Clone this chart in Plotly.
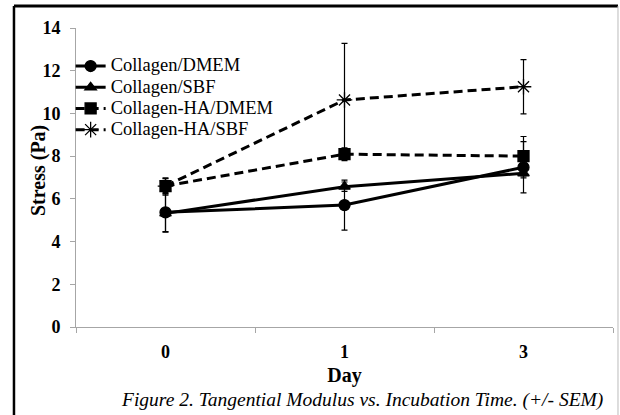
import plotly.graph_objects as go

days = ["0", "1", "3"]
series_names = ["Collagen/DMEM", "Collagen/SBF", "Collagen-HA/DMEM", "Collagen-HA/SBF"]
dmem = [5.37, 5.71, 7.48]
dmem_err = [0.93, 1.17, 1.2]
sbf = [5.32, 6.57, 7.2]
sbf_err = [0.85, 0.22, 0.22]
ha_dmem = [6.6, 8.09, 8.0]
ha_dmem_err = [0.38, 0.3, 0.92]
ha_sbf = [6.6, 10.63, 11.25]
ha_sbf_err = [0.35, 2.65, 1.27]
y_ticks = [0, 2, 4, 6, 8, 10, 12, 14]

FONT = "Liberation Serif"
styles = [
    dict(symbol="circle", size=11, dash="solid"),
    dict(symbol="triangle-up", size=10, dash="solid"),
    dict(symbol="square", size=11, dash="9px,5px"),
    dict(symbol="asterisk-open", size=13, dash="9px,5px"),
]
data = [(dmem, dmem_err), (sbf, sbf_err), (ha_dmem, ha_dmem_err), (ha_sbf, ha_sbf_err)]

fig = go.Figure()
for name, (vals, errs), st in zip(series_names, data, styles):
    fig.add_trace(go.Scatter(
        x=days, y=vals, mode="lines+markers",
        name='<span style="font-size:18.5px">' + name + '</span>',
        line=dict(color="black", width=3, dash=st["dash"]),
        marker=dict(symbol=st["symbol"], size=st["size"], color="black",
                    line=dict(color="black", width=1.3)),
        error_y=dict(type="data", array=errs, visible=True, color="black",
                     thickness=1.2, width=3),
    ))

fig.update_layout(
    width=620, height=415,
    margin=dict(l=76, r=7, t=28, b=88, autoexpand=False),
    paper_bgcolor="white", plot_bgcolor="white",
    font=dict(family=FONT, color="black"),
    showlegend=True,
    legend=dict(x=-0.010, y=0.925, xanchor="left", yanchor="top",
                font=dict(family=FONT, size=14, color="black"),
                bgcolor="rgba(0,0,0,0)", tracegroupgap=0, itemwidth=30),
    xaxis=dict(type="category", range=[-0.5, 2.5], showgrid=False,
               showline=True, linecolor="#a6a6a6", linewidth=1,
               ticks="outside", tickson="boundaries", ticklen=5, tickcolor="#a6a6a6",
               ticklabelstandoff=8,
               tickfont=dict(family=FONT, size=18, color="black", weight="bold"),
               title=dict(text="Day", font=dict(family=FONT, size=20, color="black", weight="bold"), standoff=7)),
    yaxis=dict(range=[0, 14], tickvals=y_ticks, showgrid=False, zeroline=False,
               showline=True, linecolor="#a6a6a6", linewidth=1,
               ticks="outside", ticklen=5, tickcolor="#a6a6a6",
               ticklabelstandoff=6,
               tickfont=dict(family=FONT, size=18, color="black", weight="bold")),
)

fig.add_annotation(text="<b>Stress (Pa)</b>", textangle=-90,
                   xref="paper", yref="paper", x=-0.0708, y=0.525, xanchor="center", yanchor="middle",
                   showarrow=False, font=dict(family=FONT, size=20, color="black"))

fig.add_annotation(text="<i>Figure 2. Tangential Modulus vs. Incubation Time. (+/- SEM)</i>",
                   xref="paper", yref="paper", x=0.533, y=-0.245, xanchor="center", yanchor="middle",
                   showarrow=False, font=dict(family=FONT, size=19.5, color="black"))

# document border box
fig.add_shape(type="line", xref="paper", yref="paper", x0=-0.1155, x1=1.0093, y0=1.0735, y1=1.0735,
              line=dict(color="black", width=3))
fig.add_shape(type="line", xref="paper", yref="paper", x0=-0.1155, x1=-0.1155, y0=1.0735, y1=-0.5,
              line=dict(color="black", width=2.5))
fig.add_shape(type="line", xref="paper", yref="paper", x0=1.0093, x1=1.0093, y0=1.0735, y1=-0.5,
              line=dict(color="#bbbbbb", width=1))

fig.write_html("out.html", post_script="document.body.style.margin='0';",
               config={"displayModeBar": False})
